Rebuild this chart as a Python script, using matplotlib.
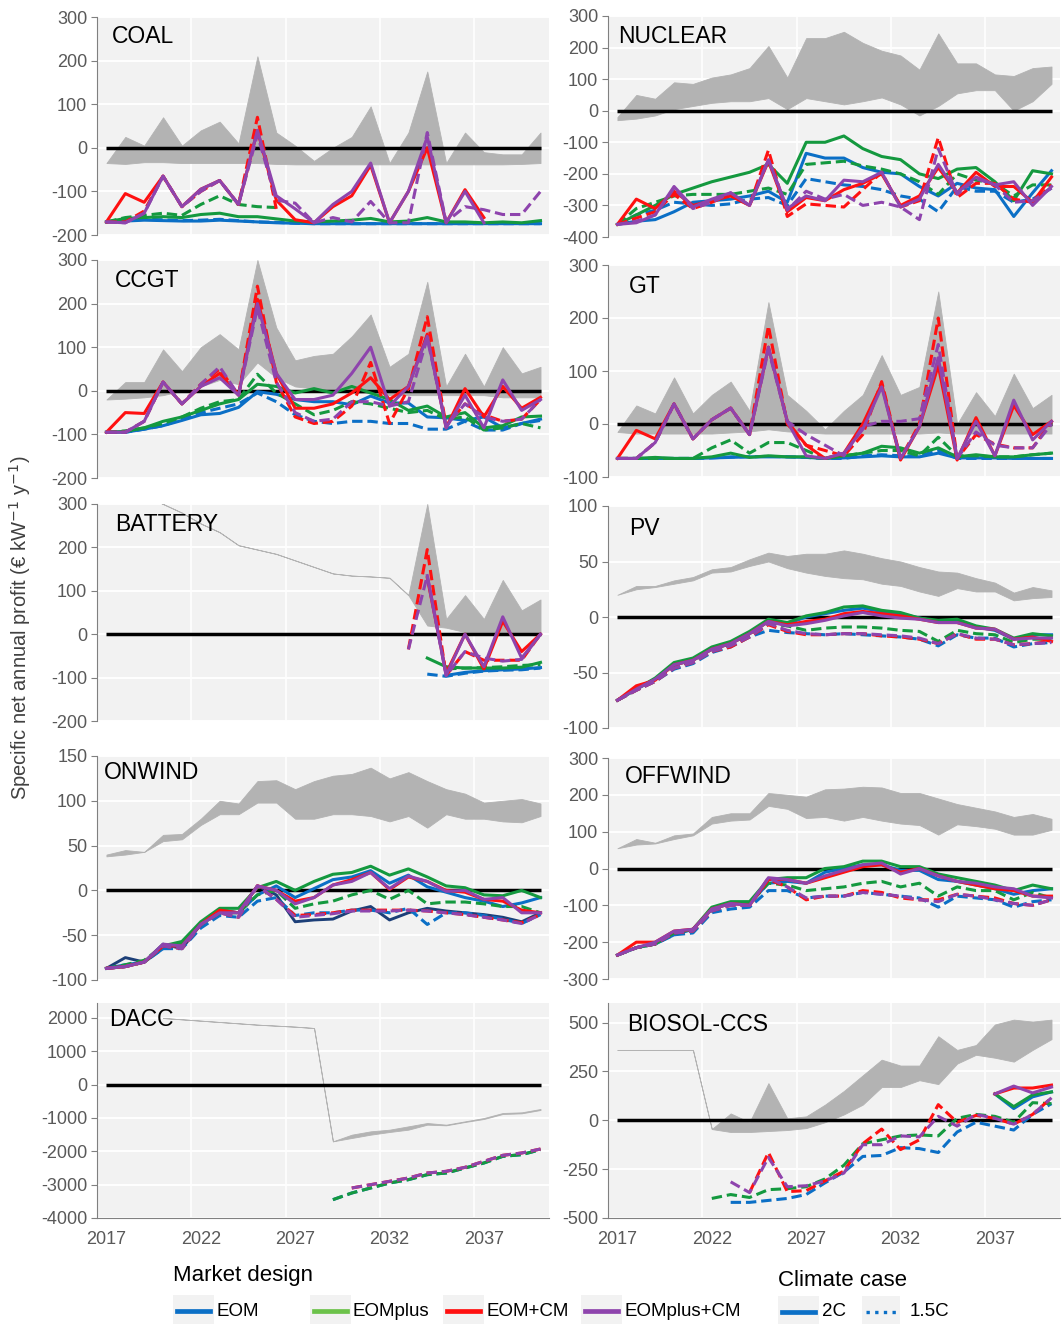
import numpy as np
import matplotlib
matplotlib.use('Agg')
import matplotlib.pyplot as plt
from matplotlib.lines import Line2D
from matplotlib.patches import Rectangle

plt.rcParams['font.family'] = ['Liberation Sans', 'DejaVu Sans']
plt.rcParams['axes.unicode_minus'] = False

nan = np.nan
years = np.arange(2017, 2041)

# ---- COAL ----
coal_hi = [-35, 25, 5, 70, 5, 40, 60, 10, 210, 35, 5, -30, 0, 25, 95, -35, 35, 175, -35, 35, -10, -15, -15, 35]
coal_lo = [-35, -37, -33, -33, -35, -35, -35, -35, -35, -37, -38, -38, -38, -38, -38, -38, -38, -38, -38, -38, -38, -38, -37, -35]
coal_eom_2c = [-170, -168, -166, -167, -168, -168, -166, -168, -170, -172, -173, -174, -174, -174, -174, -174, -174, -174, -174, -174, -174, -174, -174, -174]
coal_eom_15c = [-170, -167, -164, -165, -167, -166, -164, -167, -170, -171, -173, -174, -174, -174, -174, -174, -174, -174, -174, -174, -174, -174, -174, -174]
coal_plus_2c = [-170, -162, -160, -158, -160, -153, -150, -158, -158, -163, -168, -170, -168, -166, -162, -170, -168, -160, -170, -170, -172, -170, -172, -167]
coal_plus_15c = [-170, -160, -155, -150, -155, -130, -110, -130, -135, -137, nan, nan, nan, nan, nan, nan, nan, nan, nan, nan, nan, nan, nan, nan]
coal_cm_2c = [-170, -105, -125, -65, -135, -95, -75, -130, 40, -120, -165, -172, -135, -110, -40, -172, -100, 0, -172, -96, -160, nan, nan, nan]
coal_cm_15c = [-170, -170, -145, -65, -135, -100, -75, -130, 70, -140, nan, nan, nan, nan, nan, nan, nan, nan, nan, nan, nan, nan, nan, nan]
coal_pcm_2c = [-170, -172, -150, -65, -135, -95, -75, -130, 40, -110, -140, -172, -130, -100, -35, -172, -100, 25, -172, -100, -172, nan, nan, nan]
coal_pcm_15c = [-170, -172, -150, -65, -135, -100, -75, -130, 30, -120, -127, -172, -160, -170, -123, -172, -172, 35, -170, -135, -142, -153, -153, -100]

# ---- NUCLEAR ----
nuc_hi = [-20, 50, 38, 90, 85, 105, 115, 135, 205, 105, 230, 230, 250, 215, 190, 175, 130, 245, 150, 150, 115, 110, 135, 140]
nuc_lo = [-30, -25, -15, 5, 15, 25, 30, 30, 40, 5, 40, 30, 20, 30, 42, 20, -15, 15, 55, 65, 65, 0, 30, 85]
nuc_eom_2c = [-360, -350, -345, -320, -290, -285, -280, -270, -255, -290, -135, -150, -150, -180, -195, -200, -240, -270, -230, -245, -250, -335, -260, -190]
nuc_eom_15c = [-360, -330, -315, -290, -295, -300, -295, -280, -275, -300, -215, -225, -235, -240, -250, -270, -280, -320, -240, -255, -255, -290, -280, -245]
nuc_plus_2c = [-360, -330, -300, -265, -245, -225, -210, -195, -170, -230, -100, -100, -80, -120, -145, -155, -200, -215, -185, -180, -225, -285, -190, -200]
nuc_plus_15c = [-360, -310, -290, -270, -265, -265, -265, -255, -245, -265, -170, -165, -160, -175, -185, -200, -225, -265, -200, -220, -230, -270, -235, -235]
nuc_cm_2c = [-360, -280, -310, -255, -300, -285, -270, -300, -160, -320, -275, -285, -250, -230, -200, -300, -270, -180, -260, -195, -240, -240, -290, -210]
nuc_cm_15c = [-360, -340, -320, -265, -310, -290, -265, -300, -125, -335, -295, -300, -305, -250, -195, -305, -285, -85, -275, -230, -230, -280, -290, -235]
nuc_pcm_2c = [-360, -355, -330, -240, -305, -280, -260, -300, -155, -310, -270, -285, -220, -225, -195, -305, -280, -170, -260, -210, -235, -225, -300, -240]
nuc_pcm_15c = [-360, -350, -330, -245, -310, -290, -260, -300, -155, -315, -255, -280, -265, -300, -290, -305, -345, -120, -265, -215, -235, -290, -285, -245]

# ---- CCGT ----
ccgt_hi = [-20, 20, 20, 95, 45, 100, 130, 95, 300, 145, 70, 80, 85, 125, 175, 55, 85, 250, 10, 85, 10, 100, 40, 55]
ccgt_lo = [-20, -18, -15, -10, 0, 10, 25, 15, 65, 30, 10, 5, 0, -5, -5, -10, -10, -10, -10, -10, -10, -15, -15, -15]
ccgt_eom_2c = [-95, -95, -88, -80, -68, -55, -52, -38, -2, -8, -20, -25, -25, -32, -12, -28, -28, -60, -62, -68, -60, -85, -75, -65]
ccgt_eom_15c = [-95, -95, -88, -80, -65, -50, -40, -30, -5, -25, -55, -70, -75, -70, -70, -75, -75, -88, -88, -70, -90, -90, -75, -68]
ccgt_plus_2c = [-95, -93, -85, -70, -60, -45, -30, -20, 15, 10, -5, 5, -5, 10, -5, -20, -45, -35, -60, -50, -85, -80, -60, -58]
ccgt_plus_15c = [-95, -92, -85, -75, -60, -40, -25, -20, 38, -5, -30, -55, -45, -25, -30, -40, -50, -45, -65, -60, -90, -85, -75, -85]
ccgt_cm_2c = [-95, -50, -52, 20, -30, 10, 40, -10, 210, 40, -40, -40, -30, -5, 30, -20, 10, 130, -85, 5, -60, 10, -40, -15]
ccgt_cm_15c = [-95, -95, -70, 20, -30, 15, 50, -10, 240, 20, -60, -75, -70, -35, 65, -75, 5, 170, -80, -30, -55, -70, -65, -20]
ccgt_pcm_2c = [-95, -95, -70, 20, -30, 10, 30, -10, 200, 40, -20, -20, -10, 40, 100, -35, 10, 125, -85, -10, -85, 25, -45, -20]
ccgt_pcm_15c = [-95, -95, -70, 20, -30, 15, 55, -10, 190, 20, -50, -70, -65, -25, -25, -35, -25, 120, -80, -30, -60, -70, -65, -20]

# ---- GT ----
gt_hi = [-15, 35, 20, 88, 20, 55, 80, 25, 230, 55, 25, -10, 25, 55, 130, 55, 70, 250, 0, 60, 15, 95, 30, 55]
gt_lo = [-15, -18, -18, -18, -18, -18, -16, -14, -10, -14, -16, -18, -18, -18, -18, -18, -18, -16, -18, -18, -18, -18, -18, -18]
gt_eom_2c = [-65, -65, -65, -65, -65, -64, -63, -62, -62, -62, -63, -65, -64, -62, -60, -62, -62, -55, -64, -64, -64, -65, -65, -65]
gt_eom_15c = [-65, -65, -65, -65, -65, -64, -62, -62, -61, -62, -63, -65, -65, -60, -58, -60, -60, -50, -65, -65, -65, -65, -65, -65]
gt_plus_2c = [-65, -65, -63, -65, -65, -62, -55, -63, -60, -62, -62, -65, -60, -55, -42, -45, -55, -45, -62, -58, -62, -62, -58, -55]
gt_plus_15c = [-65, -65, -65, -65, -65, -45, -30, -55, -35, -35, -50, -65, -60, -55, -50, -50, -60, -25, -60, -60, -62, -62, -58, -55]
gt_cm_2c = [-65, -12, -28, 38, -28, 8, 30, -20, 145, 5, -40, -65, -55, 0, 75, -68, -5, 110, -68, 12, -60, 35, -20, 5]
gt_cm_15c = [-65, -65, -35, 38, -28, 8, 30, -20, 185, 0, -40, -50, -60, -20, 80, -65, 0, 200, -65, -20, -38, -45, -45, 5]
gt_pcm_2c = [-65, -65, -35, 38, -28, 8, 30, -20, 145, 5, -60, -65, -55, -10, 70, -65, -5, 125, -65, 5, -60, 45, -30, 5]
gt_pcm_15c = [-65, -65, -35, 38, -28, 8, 30, -20, 140, 5, -20, -40, -60, -5, 5, 5, 10, 150, -65, -15, -40, -45, -45, 0]

# ---- BATTERY ----
bat_hi = [nan, nan, 320, 300, 280, 255, 235, 205, 195, 185, 170, 155, 140, 135, 133, 130, 90, 300, 35, 90, 35, 125, 55, 80]
bat_lo = [nan, nan, 320, 300, 280, 255, 235, 205, 195, 185, 170, 155, 140, 135, 133, 130, 90, 20, 15, 5, 5, 5, 5, 5]
bat_eom_2c = [nan] * 18 + [-95, -88, -84, -82, -80, -77]
bat_eom_15c = [nan] * 17 + [-92, -97, -90, -85, -83, -82, -78]
bat_plus_2c = [nan] * 17 + [-55, -75, -78, -78, -78, -76, -65]
bat_plus_15c = [nan] * 18 + [-80, -78, -77, -75, -72, -70]
bat_cm_2c = [nan] * 17 + [130, -90, 0, -80, 30, -40, 0]
bat_cm_15c = [nan] * 16 + [-35, 195, -95, -40, -60, -60, -60, 0]
bat_pcm_2c = [nan] * 17 + [135, -95, 0, -75, 40, -55, 0]
bat_pcm_15c = [nan] * 16 + [-35, 135, -95, -40, -55, -62, -58, 0]

# ---- PV ----
pv_hi = [20, 28, 28, 33, 36, 43, 45, 52, 58, 55, 57, 57, 60, 57, 53, 50, 45, 41, 40, 35, 31, 22, 27, 24]
pv_lo = [20, 25, 27, 30, 33, 40, 41, 46, 50, 44, 40, 37, 35, 34, 30, 28, 23, 19, 26, 23, 23, 15, 17, 18]
pv_eom_2c = [-75, -65, -56, -43, -39, -29, -24, -15, -4, -6, 0, 3, 6, 8, 5, 3, -1, -4, -3, -9, -12, -20, -16, -16]
pv_eom_15c = [-75, -66, -58, -47, -42, -32, -27, -18, -12, -14, -15, -16, -15, -16, -17, -18, -20, -26, -16, -19, -19, -27, -24, -23]
pv_plus_2c = [-75, -65, -55, -41, -37, -27, -22, -13, -2, -5, 1, 4, 9, 10, 6, 4, -1, -3, -2, -8, -11, -19, -15, -17]
pv_plus_15c = [-75, -65, -56, -44, -40, -30, -25, -16, -6, -8, -12, -10, -9, -9, -10, -12, -13, -22, -12, -15, -16, -23, -20, -20]
pv_cm_2c = [-75, -62, -57, -43, -39, -29, -24, -15, -4, -7, -4, -2, 3, 5, 3, 1, -2, -5, -5, -10, -11, -20, -18, -22]
pv_cm_15c = [-75, -66, -58, -46, -41, -31, -27, -18, -7, -13, -16, -16, -15, -15, -17, -18, -20, -24, -15, -20, -20, -25, -24, -22]
pv_pcm_2c = [-75, -65, -56, -43, -39, -29, -24, -15, -4, -8, -6, -3, 1, 4, 1, -1, -2, -5, -5, -10, -11, -20, -19, -19]
pv_pcm_15c = [-75, -66, -58, -46, -41, -31, -26, -18, -6, -12, -15, -16, -15, -15, -16, -17, -19, -24, -15, -19, -20, -25, -24, -23]

# ---- ONWIND ----
on_hi = [40, 45, 43, 62, 63, 80, 100, 97, 122, 123, 113, 122, 128, 130, 137, 125, 132, 122, 113, 108, 98, 100, 102, 97]
on_lo = [38, 40, 43, 55, 57, 73, 85, 85, 98, 98, 80, 80, 85, 85, 83, 77, 83, 70, 85, 80, 80, 77, 76, 83]
on_eom_2c = [-87, -83, -80, -65, -60, -38, -22, -25, -5, 5, -8, 2, 12, 15, 22, 8, 17, 4, -2, -8, -12, -18, -14, -8]
on_eom_15c = [-87, -85, -80, -65, -65, -42, -28, -30, -12, -8, -28, -25, -25, -22, -22, -25, -20, -38, -25, -25, -28, -32, -37, -27]
on_plus_2c = [-87, -85, -80, -62, -57, -35, -20, -20, 3, 10, 0, 10, 18, 20, 27, 17, 24, 15, 5, 3, -5, -6, 0, -8]
on_plus_15c = [-87, -83, -78, -62, -60, -38, -25, -25, -5, 0, -20, -15, -12, -5, 0, -10, 0, -15, -13, -13, -15, -18, -18, -25]
on_cm_2c = [-87, -85, -80, -62, -62, -38, -22, -25, 5, 0, -12, -8, 6, 12, 20, 1, 15, 10, 0, -2, -10, -12, -22, -25]
on_cm_15c = [-87, -85, -80, -62, -65, -38, -25, -30, 5, -10, -28, -27, -25, -22, -22, -22, -22, -23, -25, -27, -30, -33, -36, -27]
on_pcm_2c = [-87, -85, -80, -60, -62, -38, -25, -25, 5, 0, -15, -8, 6, 10, 20, 2, 16, 10, -1, 0, -10, -8, -25, -25]
on_pcm_15c = [-87, -85, -80, -62, -65, -38, -25, -30, 5, -10, -30, -28, -26, -23, -23, -23, -22, -23, -25, -27, -30, -33, -37, -27]
on_navy = [-87, -75, -80, -60, -65, -38, -22, -25, 5, -5, -35, -33, -32, -23, -18, -33, -25, -20, -23, -25, -27, -30, -35, -25]

# ---- OFFWIND ----
off_hi = [55, 80, 70, 90, 95, 140, 150, 150, 205, 200, 195, 215, 217, 222, 220, 205, 205, 190, 175, 165, 155, 140, 148, 135]
off_lo = [55, 65, 68, 80, 90, 122, 130, 133, 170, 162, 137, 140, 130, 140, 130, 122, 118, 92, 120, 115, 108, 92, 92, 105]
off_eom_2c = [-235, -215, -205, -180, -165, -110, -95, -95, -40, -35, -40, -10, 0, 10, 10, -5, -5, -30, -35, -45, -55, -70, -60, -55]
off_eom_15c = [-235, -215, -205, -180, -175, -120, -110, -105, -60, -60, -80, -75, -75, -65, -70, -75, -80, -105, -75, -80, -85, -105, -90, -85]
off_plus_2c = [-235, -215, -205, -175, -165, -105, -90, -90, -30, -25, -25, 0, 5, 20, 20, 5, 5, -15, -25, -35, -45, -60, -45, -55]
off_plus_15c = [-235, -215, -205, -175, -170, -110, -95, -95, -40, -45, -60, -55, -50, -40, -35, -50, -40, -75, -50, -60, -60, -85, -65, -80]
off_cm_2c = [-235, -200, -200, -170, -165, -110, -95, -100, -30, -30, -40, -25, -10, 5, 10, -10, 0, -20, -35, -45, -55, -60, -75, -75]
off_cm_15c = [-235, -215, -205, -175, -170, -115, -100, -100, -30, -50, -85, -75, -75, -60, -65, -80, -85, -85, -70, -75, -80, -95, -100, -85]
off_pcm_2c = [-235, -215, -200, -170, -165, -110, -95, -100, -25, -30, -40, -20, -5, 10, 15, -15, 0, -20, -35, -40, -50, -55, -75, -80]
off_pcm_15c = [-235, -215, -205, -175, -170, -115, -100, -100, -25, -50, -80, -75, -75, -65, -70, -75, -85, -90, -70, -75, -85, -95, -100, -85]

# ---- DACC ----
dacc_hi = [nan, nan, nan, 2000, 1960, 1920, 1880, 1840, 1800, 1770, 1740, 1700, -1700, -1500, -1400, -1350, -1250, -1150, -1200, -1100, -1000, -850, -830, -730]
dacc_lo = [nan, nan, nan, 2000, 1960, 1920, 1880, 1840, 1800, 1770, 1740, 1700, -1700, -1600, -1500, -1420, -1350, -1200, -1220, -1120, -1030, -880, -860, -760]
dacc_none = [nan] * 24
dacc_eom_15c = [nan] * 12 + [-3450, -3250, -3100, -2950, -2850, -2700, -2650, -2500, -2350, -2150, -2100, -1950]
dacc_plus_15c = [nan] * 12 + [-3450, -3250, -3100, -2950, -2850, -2700, -2650, -2500, -2350, -2150, -2100, -1950]
dacc_cm_15c = [nan] * 13 + [-3100, -3000, -2900, -2800, -2650, -2600, -2480, -2300, -2120, -2050, -1930]
dacc_pcm_15c = [nan] * 13 + [-3100, -3000, -2900, -2800, -2650, -2600, -2480, -2300, -2120, -2050, -1930]

# ---- BIOSOL-CCS ----
bio_hi = [360, 360, 360, 360, 360, -45, 35, -10, 190, 10, 20, 80, 150, 230, 310, 280, 280, 430, 360, 385, 490, 515, 505, 515]
bio_lo = [360, 360, 360, 360, 360, -45, -60, -60, -55, -50, -40, -10, 30, 80, 170, 170, 205, 185, 290, 335, 320, 300, 360, 415]
bio_eom_2c = [nan] * 20 + [135, 60, 120, 145]
bio_eom_15c = [nan] * 6 + [-420, -420, -410, -400, -380, -320, -265, -185, -180, -140, -145, -165, -60, -10, -30, -50, 30, 85]
bio_plus_2c = [nan] * 20 + [135, 70, 130, 145]
bio_plus_15c = [nan] * 5 + [-400, -380, -395, -355, -350, -340, -300, -230, -120, -100, -80, -75, -80, 10, 30, 20, -10, 90, 85]
bio_cm_2c = [nan] * 20 + [135, 165, 165, 180]
bio_cm_15c = [nan] * 7 + [-370, -165, -365, -360, -310, -260, -120, -45, -150, -100, 80, -10, 25, 10, -20, 30, 115]
bio_pcm_2c = [nan] * 20 + [135, 175, 140, 170]
bio_pcm_15c = [nan] * 6 + [-315, -370, -190, -340, -335, -310, -270, -125, -125, -80, -85, 20, -30, 30, 10, -20, 30, 115]

W, H = 1064, 1324
fig = plt.figure(figsize=(W / 100, H / 100), dpi=100)

BLUE = '#0b6fc6'
GREEN = '#14993f'
RED = '#ff1010'
PURPLE = '#8e44ad'
BAND = '#b3b3b3'
BG = '#f2f2f2'
TXT = '#595959'


def panel(box, name, off, lo, hi, series, ylim, yticks, bottom=False, extra=None):
    x0, y0, x1, y1 = box
    ax = fig.add_axes([x0 / W, 1 - y1 / H, (x1 - x0) / W, (y1 - y0) / H])
    ax.set_facecolor(BG)
    ax.set_xlim(2016.5, 2040.45)
    ax.set_ylim(*ylim)
    ax.set_yticks(yticks)
    ax.set_yticklabels([str(t) for t in yticks])
    ax.set_xticks([2017, 2022, 2027, 2032, 2037])
    ax.set_xticks([2021.5, 2026.5, 2031.5, 2036.5], minor=True)
    ax.grid(True, which='minor', axis='x', color='white', lw=1.2)
    ax.grid(True, which='major', axis='y', color='white', lw=1.4)
    ax.set_axisbelow(True)
    for s in ['top', 'right']:
        ax.spines[s].set_visible(False)
    ax.spines['left'].set_color('#808080')
    ax.spines['bottom'].set_color('#808080')
    ax.spines['bottom'].set_visible(bottom)
    ax.tick_params(axis='y', colors='#808080', labelcolor=TXT, labelsize=13, length=4, pad=3)
    ax.tick_params(axis='x', which='both', length=0, labelcolor=TXT, labelsize=13, pad=9)
    if not bottom:
        ax.set_xticklabels([])

    ax.fill_between(years, lo, hi, color=BAND, lw=0.6, edgecolor=BAND, zorder=1)
    ax.hlines(0, years[0], years[-1], color='black', lw=2.5, zorder=2)
    if extra is not None:
        ax.plot(years, extra, color='#1c3f78', lw=2.1, zorder=3)
    for vals, col, dashed in series:
        if dashed:
            ax.plot(years, vals, color=col, lw=2.2, ls=(0, (3.4, 1.6)), zorder=3)
        else:
            ax.plot(years, vals, color=col, lw=2.2, zorder=3)
    ax.annotate(name, (0, 1), xycoords='axes fraction', xytext=(off[0] * 0.72, -off[1] * 0.72),
                textcoords='offset points', ha='left', va='top', fontsize=16.5, color='black')
    return ax


def group(a, b, c, d, e, f, g, h):
    return [(a, BLUE, False), (b, BLUE, True), (c, GREEN, False), (d, GREEN, True),
            (e, RED, False), (f, RED, True), (g, PURPLE, False), (h, PURPLE, True)]


panel((97, 17, 549, 235), 'COAL', (15, 8), coal_lo, coal_hi,
      group(coal_eom_2c, coal_eom_15c, coal_plus_2c, coal_plus_15c, coal_cm_2c, coal_cm_15c, coal_pcm_2c, coal_pcm_15c),
      (-200, 300), [-200, -100, 0, 100, 200, 300])
panel((608, 16, 1060, 237), 'NUCLEAR', (10, 9), nuc_lo, nuc_hi,
      group(nuc_eom_2c, nuc_eom_15c, nuc_plus_2c, nuc_plus_15c, nuc_cm_2c, nuc_cm_15c, nuc_pcm_2c, nuc_pcm_15c),
      (-400, 300), [-400, -300, -200, -100, 0, 100, 200, 300])
panel((97, 260, 549, 478), 'CCGT', (18, 9), ccgt_lo, ccgt_hi,
      group(ccgt_eom_2c, ccgt_eom_15c, ccgt_plus_2c, ccgt_plus_15c, ccgt_cm_2c, ccgt_cm_15c, ccgt_pcm_2c, ccgt_pcm_15c),
      (-200, 300), [-200, -100, 0, 100, 200, 300])
panel((608, 265, 1060, 477), 'GT', (21, 10), gt_lo, gt_hi,
      group(gt_eom_2c, gt_eom_15c, gt_plus_2c, gt_plus_15c, gt_cm_2c, gt_cm_15c, gt_pcm_2c, gt_pcm_15c),
      (-100, 300), [-100, 0, 100, 200, 300])
panel((97, 504, 549, 721), 'BATTERY', (18, 9), bat_lo, bat_hi,
      group(bat_eom_2c, bat_eom_15c, bat_plus_2c, bat_plus_15c, bat_cm_2c, bat_cm_15c, bat_pcm_2c, bat_pcm_15c),
      (-200, 300), [-200, -100, 0, 100, 200, 300])
panel((608, 506, 1060, 728), 'PV', (21, 11), pv_lo, pv_hi,
      group(pv_eom_2c, pv_eom_15c, pv_plus_2c, pv_plus_15c, pv_cm_2c, pv_cm_15c, pv_pcm_2c, pv_pcm_15c),
      (-100, 100), [-100, -50, 0, 50, 100])
panel((97, 756, 549, 980), 'ONWIND', (7, 5), on_lo, on_hi,
      group(on_eom_2c, on_eom_15c, on_plus_2c, on_plus_15c, on_cm_2c, on_cm_15c, on_pcm_2c, on_pcm_15c),
      (-100, 150), [-100, -50, 0, 50, 100, 150], extra=on_navy)
panel((608, 758, 1060, 979), 'OFFWIND', (17, 7), off_lo, off_hi,
      group(off_eom_2c, off_eom_15c, off_plus_2c, off_plus_15c, off_cm_2c, off_cm_15c, off_pcm_2c, off_pcm_15c),
      (-300, 300), [-300, -200, -100, 0, 100, 200, 300])
panel((97, 1003, 549, 1218), 'DACC', (12, 5), dacc_lo, dacc_hi,
      group(dacc_none, dacc_eom_15c, dacc_none, dacc_plus_15c, dacc_none, dacc_cm_15c, dacc_none, dacc_pcm_15c),
      (-4000, 2450), [-4000, -3000, -2000, -1000, 0, 1000, 2000], bottom=True)
panel((608, 1003, 1060, 1218), 'BIOSOL-CCS', (19, 10), bio_lo, bio_hi,
      group(bio_eom_2c, bio_eom_15c, bio_plus_2c, bio_plus_15c, bio_cm_2c, bio_cm_15c, bio_pcm_2c, bio_pcm_15c),
      (-500, 600), [-500, -250, 0, 250, 500], bottom=True)

fig.text(20 / W, 1 - 628 / H, 'Specific net annual profit (€ kW$^{-1}$ y$^{-1}$)', rotation=90,
         ha='center', va='center', fontsize=14.5, color='#404040')


# legend, drawn in figure pixels
def px(x, y):
    return x / W, 1 - y / H


def key(x0, x1, y, color, ls='-', lw=3.4):
    bx, by = px(x0 - 4, y + 14)
    fig.add_artist(Rectangle((bx, by), (x1 - x0 + 8) / W, 30 / H, transform=fig.transFigure,
                             facecolor=BG, edgecolor='none'))
    xa, ya = px(x0, y)
    xb, _ = px(x1, y)
    fig.add_artist(Line2D([xa, xb], [ya, ya], transform=fig.transFigure, color=color, lw=lw, ls=ls))


fig.text(*px(173, 1276), 'Market design', fontsize=16, color='black', va='center')
design_labels = ['EOM', 'EOMplus', 'EOM+CM', 'EOMplus+CM']
design_colors = ['#0b6fc6', '#6cc24a', '#ff1010', '#8e44ad']
key_x = [177, 314, 447, 585]
for lab, col, kx in zip(design_labels, design_colors, key_x):
    key(kx, kx + 33, 1311, col)
    fig.text(*px(kx + 39, 1311), lab, fontsize=13.5, color='black', va='center')

fig.text(*px(778, 1280), 'Climate case', fontsize=16, color='black', va='center')
key(782, 815, 1312, '#0b6fc6')
fig.text(*px(822, 1312), '2C', fontsize=13.5, color='black', va='center')
key(866, 896, 1312, '#0b6fc6', ls=(0, (1, 1.6)), lw=2.4)
fig.text(*px(910, 1312), '1.5C', fontsize=13.5, color='black', va='center')

fig.savefig('out.png', dpi=100)
